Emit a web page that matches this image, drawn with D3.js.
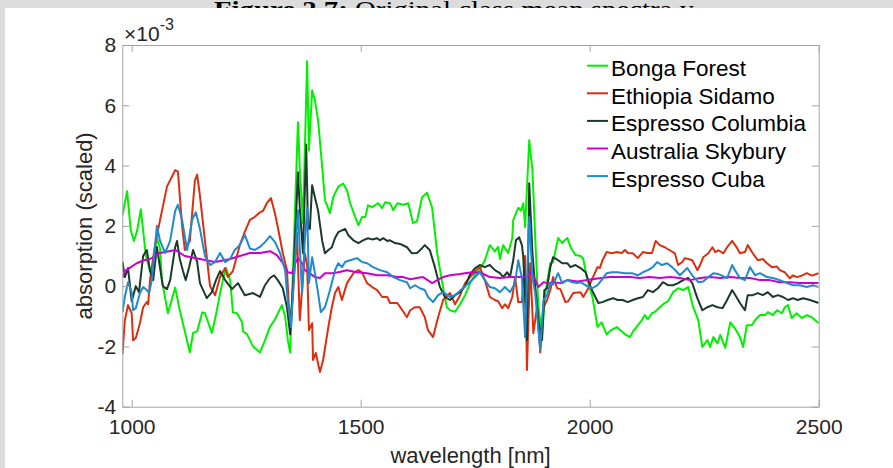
<!DOCTYPE html>
<html><head><meta charset="utf-8">
<script src="https://cdn.jsdelivr.net/npm/d3@7"></script>
<style>body{margin:0;background:#fff}svg{display:block}</style>
</head><body><svg id="c" width="893" height="468"></svg>
<script>
// ---------- data (wavelength [nm], absorption ×10^-3) ----------
const seriesNames = ["Bonga Forest","Ethiopia Sidamo","Espresso Columbia","Australia Skybury","Espresso Cuba"];
const seriesColors = ["#00f000","#dd2e10","#1b3a2b","#cc00cc","#1f8ad0"];
const xTicks = [1000,1500,2000,2500];
const yTicks = [-4,-2,0,2,4,6,8];
const wavelengthDomain = [979.5,2500];
const absorbDomain = [-4,8];

const bongaForest = [[980,2.35],[990,3.15],[998,1.85],[1005,1.5],[1012,1.85],[1020,2.55],[1031,1.0],[1040,0.5],[1047,0.8],[1055,1.6],[1062,1.25],[1066,0.2],[1079,-0.9],[1095,-0.05],[1105,-0.8],[1127,-2.2],[1134,-1.55],[1143,-1.5],[1154,-0.87],[1160,-0.9],[1175,-1.55],[1182,-1.1],[1193,-0.25],[1199,0.2],[1206,0.6],[1215,0.2],[1221,-0.87],[1230,-0.9],[1241,-1.2],[1243,-1.5],[1252,-1.6],[1265,-2.0],[1280,-2.2],[1291,-1.8],[1302,-1.35],[1313,-1.1],[1328,-0.63],[1335,-1.0],[1341,-1.8],[1346,-2.2],[1352,0.43],[1363,5.44],[1367,3.9],[1374,2.1],[1383,7.46],[1387,4.5],[1394,6.5],[1400,6.17],[1407,5.5],[1416,3.94],[1422,2.85],[1433,2.42],[1440,2.95],[1451,3.3],[1462,3.4],[1470,3.18],[1477,2.75],[1488,2.29],[1495,2.02],[1503,2.29],[1510,2.29],[1516,2.68],[1525,2.62],[1538,2.75],[1547,2.59],[1553,2.78],[1564,2.75],[1571,2.52],[1580,2.75],[1593,2.7],[1604,2.75],[1614,2.09],[1623,2.15],[1634,2.95],[1645,3.1],[1656,2.6],[1667,1.1],[1677,0.2],[1688,-0.7],[1695,-0.8],[1706,-0.85],[1717,-0.6],[1728,-0.3],[1739,0.1],[1750,0.4],[1760,0.53],[1771,0.86],[1782,1.36],[1793,1.15],[1800,1.3],[1804,0.9],[1811,1.36],[1822,1.1],[1831,1.6],[1833,2.19],[1844,2.6],[1850,2.5],[1855,2.75],[1859,1.96],[1868,4.84],[1875,3.85],[1881,1.6],[1888,-0.7],[1896,-1.6],[1903,-0.23],[1914,0.76],[1920,0.8],[1931,1.6],[1940,1.43],[1951,1.6],[1958,1.3],[1969,1.03],[1980,1.0],[1986,0.9],[1995,0.2],[2006,-0.36],[2017,-1.35],[2026,-1.2],[2037,-1.6],[2048,-1.45],[2059,-1.36],[2066,-1.45],[2077,-1.6],[2088,-1.69],[2094,-1.52],[2105,-1.3],[2114,-1.13],[2120,-0.96],[2127,-1.1],[2136,-0.9],[2142,-0.86],[2153,-0.7],[2164,-0.56],[2171,-0.5],[2182,-0.2],[2193,-0.07],[2204,-0.13],[2215,-0.03],[2226,-0.7],[2237,-1.13],[2246,-2.02],[2257,-1.79],[2263,-2.02],[2270,-1.69],[2279,-1.9],[2285,-1.62],[2296,-2.05],[2307,-1.2],[2317,-1.4],[2328,-1.69],[2335,-2.02],[2343,-1.3],[2354,-1.3],[2361,-1.13],[2372,-0.96],[2383,-0.96],[2389,-0.86],[2400,-0.96],[2409,-0.8],[2420,-0.9],[2426,-0.7],[2433,-0.63],[2441,-1.06],[2452,-0.9],[2463,-1.06],[2474,-0.96],[2485,-1.03],[2500,-1.23]];

const ethiopiaSidamo = [[980,-2.25],[985,-1.13],[992,-0.63],[1000,-0.9],[1003,-1.79],[1009,-1.72],[1018,-1.23],[1025,-0.7],[1033,-0.53],[1036,-0.6],[1040,0.2],[1051,1.36],[1062,2.2],[1077,3.3],[1095,3.85],[1101,3.8],[1110,2.0],[1116,1.2],[1127,1.5],[1138,3.5],[1143,3.7],[1149,3.0],[1160,1.5],[1171,0.0],[1182,-0.3],[1193,0.3],[1204,0.6],[1210,0.3],[1221,0.5],[1236,1.36],[1247,1.8],[1258,2.2],[1269,2.3],[1280,2.45],[1287,2.5],[1295,2.75],[1304,2.92],[1313,2.4],[1319,1.96],[1330,1.09],[1339,0.53],[1346,-1.46],[1352,-0.23],[1361,1.76],[1367,-1.13],[1378,1.09],[1383,0.7],[1387,-1.46],[1394,-1.23],[1396,-2.45],[1402,-2.22],[1411,-2.85],[1418,-2.45],[1429,-1.39],[1437,-0.7],[1444,-0.23],[1451,-0.03],[1459,-0.46],[1470,0.1],[1484,0.43],[1495,0.53],[1503,0.45],[1514,0.1],[1525,-0.03],[1536,-0.13],[1547,-0.36],[1558,-0.36],[1564,-0.56],[1580,-0.56],[1591,-0.8],[1601,-1.03],[1608,-0.8],[1619,-0.7],[1629,-0.7],[1640,-1.03],[1647,-1.46],[1658,-1.69],[1669,-1.03],[1680,-0.46],[1695,-0.23],[1706,-0.6],[1717,-0.3],[1728,0.1],[1739,0.3],[1750,0.5],[1760,0.63],[1771,0.2],[1782,-0.36],[1793,-0.46],[1800,-0.5],[1809,-0.73],[1815,-0.6],[1822,-0.73],[1831,-0.36],[1837,0.3],[1844,-0.53],[1852,-0.53],[1859,1.0],[1863,-2.78],[1870,0.76],[1877,-1.56],[1885,-0.7],[1892,-2.2],[1899,-0.7],[1907,-0.46],[1914,-0.13],[1920,0.3],[1929,-0.07],[1936,-0.1],[1947,-0.53],[1953,-0.5],[1964,-0.23],[1980,-0.2],[1986,-0.36],[1997,-0.07],[2006,0.26],[2017,0.63],[2022,0.6],[2028,0.86],[2037,1.13],[2048,1.09],[2059,1.13],[2070,1.1],[2077,1.2],[2083,1.1],[2094,1.09],[2105,0.93],[2116,1.13],[2125,1.1],[2136,1.1],[2144,1.5],[2153,1.36],[2164,1.29],[2175,1.19],[2186,1.09],[2193,0.7],[2202,0.8],[2208,0.93],[2215,0.9],[2224,0.86],[2235,0.53],[2241,0.7],[2248,0.96],[2259,1.09],[2268,1.29],[2274,1.13],[2281,1.19],[2292,1.09],[2300,1.29],[2311,1.5],[2322,1.26],[2328,1.09],[2339,1.13],[2345,1.36],[2356,1.09],[2367,0.86],[2378,0.9],[2387,0.76],[2398,0.63],[2409,0.65],[2415,0.53],[2426,0.46],[2437,0.26],[2444,0.36],[2452,0.3],[2463,0.35],[2474,0.43],[2485,0.35],[2500,0.43]];

const espressoColumbia = [[980,0.8],[985,0.3],[992,0.6],[1000,-0.5],[1009,0.0],[1016,-0.2],[1025,1.0],[1033,1.2],[1040,0.5],[1047,0.2],[1055,1.3],[1062,0.6],[1068,0.0],[1077,-0.1],[1084,0.2],[1095,1.3],[1099,1.5],[1105,0.9],[1112,0.5],[1118,0.2],[1125,0.6],[1134,1.2],[1143,0.8],[1149,0.1],[1164,-0.4],[1175,-0.2],[1184,0.2],[1193,0.5],[1204,0.2],[1219,-0.1],[1232,0.1],[1247,-0.3],[1265,-0.23],[1280,-0.36],[1291,0.03],[1302,0.27],[1311,0.36],[1319,0.2],[1330,-0.07],[1339,-0.7],[1346,-1.6],[1352,-0.03],[1363,3.78],[1367,2.6],[1374,1.09],[1381,4.7],[1385,1.9],[1389,1.9],[1394,3.35],[1400,2.95],[1407,2.5],[1416,1.5],[1422,1.09],[1429,1.19],[1437,1.29],[1444,1.6],[1451,1.79],[1466,1.9],[1473,1.69],[1484,1.52],[1495,1.43],[1505,1.52],[1516,1.59],[1525,1.55],[1536,1.59],[1542,1.52],[1549,1.59],[1558,1.5],[1564,1.52],[1575,1.43],[1586,1.4],[1601,1.29],[1612,1.09],[1623,1.1],[1634,1.26],[1640,1.36],[1651,1.19],[1662,0.63],[1673,-0.03],[1684,-0.36],[1695,-0.46],[1706,-0.3],[1717,-0.2],[1728,0.0],[1739,0.4],[1750,0.6],[1760,0.7],[1771,0.63],[1782,0.7],[1793,0.53],[1804,0.43],[1811,0.3],[1820,0.46],[1826,0.3],[1833,0.86],[1839,1.52],[1846,1.62],[1852,1.36],[1855,0.96],[1863,-1.79],[1868,3.41],[1875,1.09],[1881,-0.03],[1888,-1.13],[1896,-1.79],[1901,-0.13],[1907,-0.07],[1914,0.63],[1920,0.96],[1931,0.86],[1940,0.76],[1951,0.76],[1958,0.63],[1969,0.7],[1980,0.6],[1991,0.46],[2002,-0.03],[2008,-0.23],[2019,-0.56],[2028,-0.53],[2039,-0.46],[2051,-0.4],[2061,-0.46],[2072,-0.46],[2083,-0.53],[2094,-0.46],[2105,-0.4],[2116,-0.36],[2127,-0.13],[2138,-0.2],[2149,-0.07],[2160,0.13],[2171,0.03],[2182,0.03],[2193,0.1],[2204,0.2],[2215,0.27],[2224,0.1],[2235,-0.4],[2246,-0.8],[2257,-0.7],[2268,-0.63],[2279,-0.7],[2290,-0.73],[2300,-0.46],[2311,-0.13],[2322,-0.4],[2328,-0.56],[2339,-0.8],[2345,-0.3],[2356,-0.3],[2367,-0.23],[2378,-0.3],[2389,-0.2],[2400,-0.36],[2411,-0.3],[2422,-0.36],[2433,-0.46],[2444,-0.4],[2454,-0.46],[2466,-0.4],[2481,-0.46],[2500,-0.56]];

const australiaSkybury = [[980,0.3],[985,0.5],[995,0.6],[1010,0.75],[1025,0.85],[1040,0.9],[1062,1.1],[1095,1.2],[1116,1.0],[1149,0.9],[1182,0.8],[1215,0.9],[1258,1.1],[1280,1.1],[1302,1.16],[1317,1.03],[1330,0.76],[1341,0.46],[1350,0.43],[1357,0.76],[1363,0.93],[1372,0.76],[1378,0.53],[1389,0.43],[1400,0.3],[1411,0.27],[1422,0.43],[1437,0.43],[1451,0.46],[1470,0.53],[1492,0.46],[1514,0.43],[1536,0.36],[1558,0.36],[1580,0.3],[1593,0.3],[1608,0.23],[1623,0.27],[1636,0.3],[1656,0.1],[1667,0.2],[1680,0.3],[1695,0.36],[1717,0.4],[1739,0.45],[1760,0.46],[1782,0.3],[1804,0.27],[1826,0.3],[1842,0.3],[1852,0.3],[1863,0.3],[1870,0.46],[1877,0.35],[1888,-0.03],[1899,0.13],[1910,0.1],[1920,0.13],[1936,0.1],[1951,0.2],[1973,0.15],[1995,0.2],[2017,0.25],[2044,0.3],[2066,0.3],[2088,0.3],[2109,0.27],[2131,0.3],[2153,0.27],[2175,0.3],[2197,0.27],[2219,0.2],[2241,0.27],[2263,0.3],[2285,0.27],[2307,0.3],[2328,0.27],[2350,0.27],[2372,0.2],[2393,0.2],[2415,0.13],[2437,0.13],[2459,0.1],[2481,0.1],[2500,0.1]];

const espressoCuba = [[980,-0.86],[985,-0.36],[992,0.13],[1000,-0.2],[1003,-0.8],[1009,-0.73],[1018,-0.23],[1025,-0.03],[1033,-0.13],[1038,-0.23],[1044,0.2],[1055,2.0],[1062,1.5],[1073,1.1],[1084,1.5],[1095,2.5],[1101,2.7],[1110,2.2],[1121,1.2],[1132,2.2],[1140,2.45],[1149,1.9],[1160,1.0],[1171,0.7],[1182,0.8],[1193,1.1],[1204,0.8],[1215,0.9],[1225,1.2],[1236,1.36],[1247,1.7],[1258,1.25],[1269,1.2],[1280,1.3],[1291,1.46],[1302,1.66],[1313,1.46],[1324,1.09],[1335,0.53],[1341,-0.56],[1348,-1.36],[1354,0.2],[1363,2.52],[1372,-0.23],[1378,1.5],[1383,2.6],[1387,0.1],[1394,0.96],[1400,0.43],[1407,-0.23],[1413,-0.86],[1422,-0.7],[1433,-0.13],[1444,0.53],[1451,0.76],[1459,0.63],[1466,0.8],[1477,0.86],[1492,0.93],[1503,0.8],[1514,0.76],[1527,0.63],[1542,0.53],[1558,0.46],[1571,0.3],[1586,0.2],[1601,0.13],[1608,-0.07],[1619,0.03],[1629,-0.07],[1640,-0.13],[1647,-0.36],[1658,-0.53],[1669,-0.3],[1680,-0.2],[1695,-0.36],[1706,-0.3],[1717,-0.15],[1728,0.0],[1743,0.2],[1760,0.46],[1771,0.2],[1782,-0.03],[1793,-0.07],[1804,-0.2],[1815,-0.03],[1826,-0.2],[1837,0.1],[1844,0.86],[1852,0.26],[1859,-1.69],[1868,2.29],[1875,0.3],[1881,-0.23],[1892,-2.1],[1899,-0.46],[1907,-0.3],[1914,0.1],[1920,0.05],[1931,0.43],[1940,0.1],[1951,0.2],[1962,0.13],[1973,0.1],[1980,0.13],[1991,0.03],[2006,-0.07],[2017,0.03],[2026,0.2],[2037,0.43],[2048,0.46],[2061,0.46],[2077,0.43],[2092,0.43],[2105,0.36],[2116,0.46],[2127,0.53],[2138,0.63],[2147,0.8],[2158,0.7],[2169,0.76],[2180,0.63],[2191,0.46],[2197,0.36],[2213,0.6],[2224,0.36],[2237,0.13],[2248,0.15],[2259,0.3],[2270,0.43],[2281,0.4],[2300,0.27],[2311,0.7],[2317,0.53],[2328,0.27],[2339,0.2],[2350,0.63],[2361,0.36],[2372,0.43],[2387,0.3],[2400,0.27],[2415,0.2],[2431,0.1],[2444,0.03],[2459,0.03],[2474,-0.03],[2487,0.03],[2500,-0.03]];

const seriesData = [bongaForest, ethiopiaSidamo, espressoColumbia, australiaSkybury, espressoCuba];

// ---------- drawing ----------
const W = 893, H = 468;
const plot = {left:122.3, right:818.7, top:45, bottom:406.7};
const FONT = "'Liberation Sans', Arial, Helvetica, sans-serif";
const axisColor = "#a3a3a3";
const textColor = "#262626";

const svg = d3.select("#c");

// page background with caption band (caption is cropped in the source picture)
svg.append("rect").attr("width",W).attr("height",H).attr("fill","#dcdcdc");
const cap = svg.append("text").attr("x",454).attr("y",17).attr("text-anchor","middle")
  .attr("font-family","'Liberation Serif','Times New Roman',serif").attr("font-size",24).attr("fill","#000")
  .attr("textLength",480).attr("lengthAdjust","spacingAndGlyphs");
cap.append("tspan").attr("font-weight","bold").text("Figure 2.7:");
cap.append("tspan").text("  Original class mean spectra y");
svg.append("rect").attr("x",5).attr("y",8).attr("width",W-5).attr("height",H-8).attr("fill","#fff");

const x = d3.scaleLinear().domain(wavelengthDomain).range([plot.left, plot.right]);
const y = d3.scaleLinear().domain(absorbDomain).range([plot.bottom, plot.top]);

svg.append("defs").append("clipPath").attr("id","clip")
  .append("rect").attr("x",plot.left).attr("y",plot.top)
  .attr("width",plot.right-plot.left).attr("height",plot.bottom-plot.top);

// lines
const line = d3.line().x(d=>x(d[0])).y(d=>y(d[1]));
const lg = svg.append("g").attr("clip-path","url(#clip)");
seriesData.forEach((s,i)=>{
  lg.append("path").datum(s).attr("d",line).attr("fill","none")
    .attr("stroke",seriesColors[i]).attr("stroke-width",2).attr("stroke-linejoin","round");
});

// axes
function styleAxis(g, showLabels){
  g.selectAll(".domain").attr("stroke",axisColor).attr("stroke-width",1);
  g.selectAll(".tick line").attr("stroke",axisColor).attr("stroke-width",1);
  g.selectAll(".tick text").attr("fill",textColor).attr("font-family",FONT).attr("font-size",21);
  if(!showLabels) g.selectAll(".tick text").remove();
}
const xb = svg.append("g").attr("transform",`translate(0,${plot.bottom})`)
  .call(d3.axisBottom(x).tickValues(xTicks).tickSize(-7).tickSizeOuter(0).tickPadding(12.5).tickFormat(d3.format("d")));
styleAxis(xb,true);
const xt = svg.append("g").attr("transform",`translate(0,${plot.top})`)
  .call(d3.axisTop(x).tickValues(xTicks).tickSize(-7).tickSizeOuter(0));
styleAxis(xt,false);
const yl = svg.append("g").attr("transform",`translate(${plot.left},0)`)
  .call(d3.axisLeft(y).tickValues(yTicks).tickSize(-7).tickSizeOuter(0).tickPadding(6).tickFormat(d3.format("d")));
styleAxis(yl,true);
const yr = svg.append("g").attr("transform",`translate(${plot.right},0)`)
  .call(d3.axisRight(y).tickValues(yTicks).tickSize(-7).tickSizeOuter(0));
styleAxis(yr,false);
yl.selectAll(".tick text").text(d=>d<0?"-"+Math.abs(d):d);

// exponent label
const ex = svg.append("text").attr("x",124).attr("y",41).attr("font-family",FONT).attr("fill",textColor).attr("font-size",21);
ex.append("tspan").text("\u00d710");
ex.append("tspan").attr("font-size",16).attr("dy",-11).text("-3");

// axis labels
svg.append("text").attr("x",(plot.left+plot.right)/2).attr("y",463).attr("text-anchor","middle")
  .attr("font-family",FONT).attr("font-size",22).attr("fill",textColor).text("wavelength [nm]");
svg.append("text").attr("transform",`translate(92,${(plot.top+plot.bottom)/2}) rotate(-90)`).attr("text-anchor","middle")
  .attr("font-family",FONT).attr("font-size",22).attr("fill",textColor).text("absorption (scaled)");

// legend
const legY0 = 65.7, legDy = 27.6;
seriesNames.forEach((n,i)=>{
  const yy = legY0 + i*legDy;
  svg.append("line").attr("x1",587).attr("x2",608).attr("y1",yy).attr("y2",yy)
    .attr("stroke",seriesColors[i]).attr("stroke-width",2);
  svg.append("text").attr("x",611).attr("y",yy+10.5).attr("font-family",FONT).attr("font-size",22.5)
    .attr("fill","#000").text(n);
});
</script></body></html>
